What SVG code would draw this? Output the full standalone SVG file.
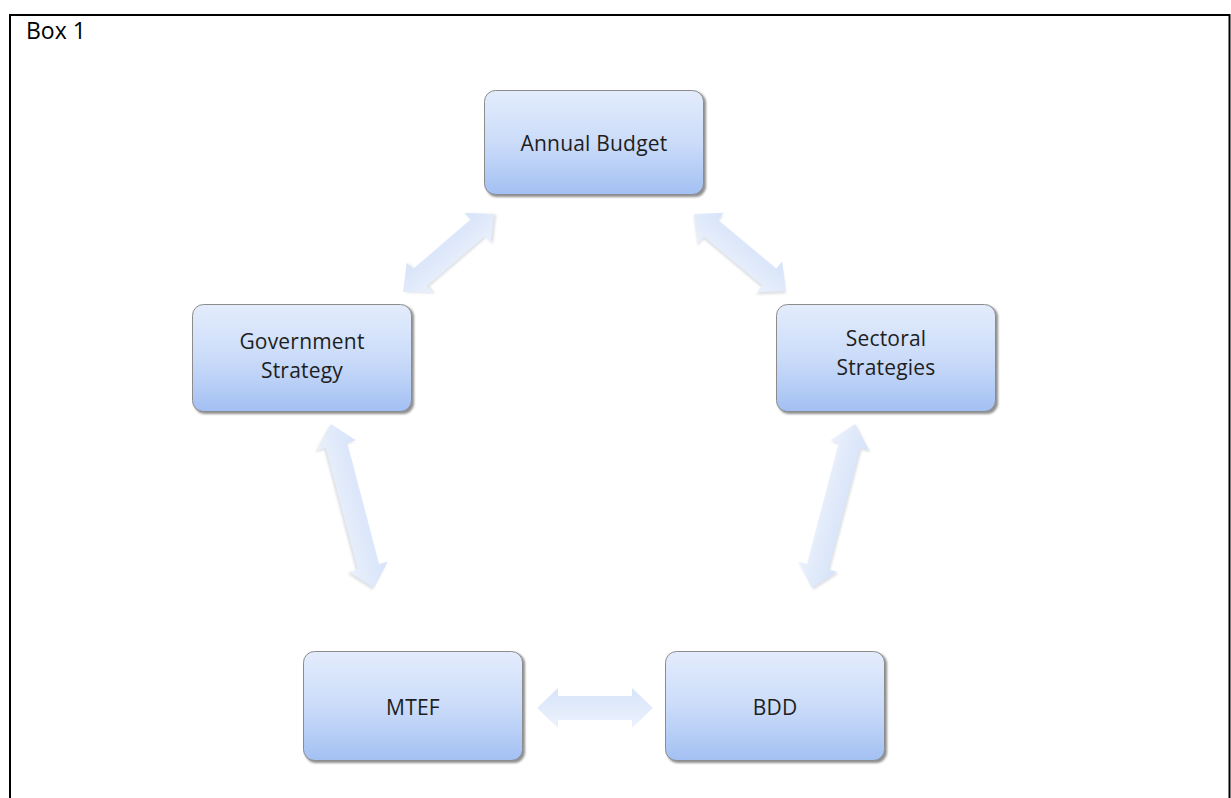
<svg xmlns="http://www.w3.org/2000/svg" width="1231" height="798" viewBox="0 0 1231 798">
  <defs>
    <linearGradient id="boxFill" x1="0" y1="0" x2="0" y2="1">
      <stop offset="0" stop-color="#e3ecfc"/>
      <stop offset="0.5" stop-color="#cbdcf9"/>
      <stop offset="1" stop-color="#a3c0f3"/>
    </linearGradient>
    <linearGradient id="arrowFill" x1="0" y1="0" x2="0" y2="1">
      <stop offset="0" stop-color="#d4e2fa"/>
      <stop offset="1" stop-color="#ecf2fd"/>
    </linearGradient>
    <filter id="soft" x="-10%" y="-10%" width="120%" height="120%">
      <feGaussianBlur stdDeviation="1"/>
    </filter>
  </defs>
  <style>
    .frame { fill: none; stroke: #000; stroke-width: 2; }
    .title { font-family: "Open Sans", "Liberation Sans", sans-serif; font-size: 23px; fill: #000; }
    .shadow { fill: #6a6a6a; opacity: 0.75; filter: url(#soft); }
    .box { fill: url(#boxFill); stroke: #8c8c8c; stroke-width: 1; }
    .label { font-family: "Open Sans", "Liberation Sans", sans-serif; font-size: 21px; letter-spacing: 0.2px; fill: #1e1e1e; text-anchor: middle; }
    .arrow { fill: url(#arrowFill); opacity: 0.95; }
    .arrow-shadow { fill: #b8bcc4; opacity: 0.45; filter: url(#soft); }
  </style>

  <rect width="1231" height="798" fill="#ffffff"/>

  <!-- outer frame, open at the bottom -->
  <path class="frame" d="M10,798 V15 H1229.5 V798"/>
  <text class="title" x="26" y="39">Box 1</text>

  <!-- double-headed block arrows -->
  <g id="connectors">
    <!-- Annual Budget <-> Government Strategy -->
    <g transform="translate(403,292) rotate(-40.6)">
      <path class="arrow-shadow" transform="translate(1.5,2)" d="M0,0 L22,-20 L22,-11 L98,-11 L98,-20 L120,0 L98,20 L98,11 L22,11 L22,20 Z"/>
      <path class="arrow" d="M0,0 L22,-20 L22,-11 L98,-11 L98,-20 L120,0 L98,20 L98,11 L22,11 L22,20 Z"/>
    </g>
    <!-- Annual Budget <-> Sectoral Strategies -->
    <g transform="translate(694,214) rotate(39.9)">
      <path class="arrow-shadow" transform="translate(1.5,2)" d="M0,0 L22,-20 L22,-11 L98,-11 L98,-20 L120,0 L98,20 L98,11 L22,11 L22,20 Z"/>
      <path class="arrow" d="M0,0 L22,-20 L22,-11 L98,-11 L98,-20 L120,0 L98,20 L98,11 L22,11 L22,20 Z"/>
    </g>
    <!-- Government Strategy <-> MTEF -->
    <g transform="translate(331,424) rotate(75.3)">
      <path class="arrow-shadow" transform="translate(1.5,2)" d="M0,0 L22,-20 L22,-11 L147.5,-11 L147.5,-20 L169.5,0 L147.5,20 L147.5,11 L22,11 L22,20 Z"/>
      <path class="arrow" d="M0,0 L22,-20 L22,-11 L147.5,-11 L147.5,-20 L169.5,0 L147.5,20 L147.5,11 L22,11 L22,20 Z"/>
    </g>
    <!-- Sectoral Strategies <-> BDD -->
    <g transform="translate(855,424) rotate(104.7)">
      <path class="arrow-shadow" transform="translate(1.5,-2)" d="M0,0 L22,-20 L22,-11 L147.5,-11 L147.5,-20 L169.5,0 L147.5,20 L147.5,11 L22,11 L22,20 Z"/>
      <path class="arrow" d="M0,0 L22,-20 L22,-11 L147.5,-11 L147.5,-20 L169.5,0 L147.5,20 L147.5,11 L22,11 L22,20 Z"/>
    </g>
    <!-- MTEF <-> BDD -->
    <g transform="translate(537,708)">
      <path class="arrow" d="M0,0 L21,-20 L21,-12 L95,-12 L95,-20 L116,0 L95,20 L95,12 L21,12 L21,20 Z"/>
    </g>
  </g>

  <g id="annual-budget">
    <rect class="shadow" x="486" y="92" width="220" height="105" rx="11"/>
    <rect class="box" x="484.5" y="90.5" width="219" height="104" rx="11"/>
    <text class="label" x="594" y="151">Annual Budget</text>
  </g>

  <g id="government-strategy">
    <rect class="shadow" x="194" y="306" width="220" height="108" rx="11"/>
    <rect class="box" x="192.5" y="304.5" width="219" height="107" rx="11"/>
    <text class="label" x="302" y="349">Government</text>
    <text class="label" x="302" y="378">Strategy</text>
  </g>

  <g id="sectoral-strategies">
    <rect class="shadow" x="778" y="306" width="220" height="108" rx="11"/>
    <rect class="box" x="776.5" y="304.5" width="219" height="107" rx="11"/>
    <text class="label" x="886" y="346">Sectoral</text>
    <text class="label" x="886" y="375">Strategies</text>
  </g>

  <g id="mtef">
    <rect class="shadow" x="305" y="653" width="220" height="110" rx="11"/>
    <rect class="box" x="303.5" y="651.5" width="219" height="109" rx="11"/>
    <text class="label" x="413" y="715">MTEF</text>
  </g>

  <g id="bdd">
    <rect class="shadow" x="667" y="653" width="220" height="110" rx="11"/>
    <rect class="box" x="665.5" y="651.5" width="219" height="109" rx="11"/>
    <text class="label" x="775" y="715">BDD</text>
  </g>
</svg>
